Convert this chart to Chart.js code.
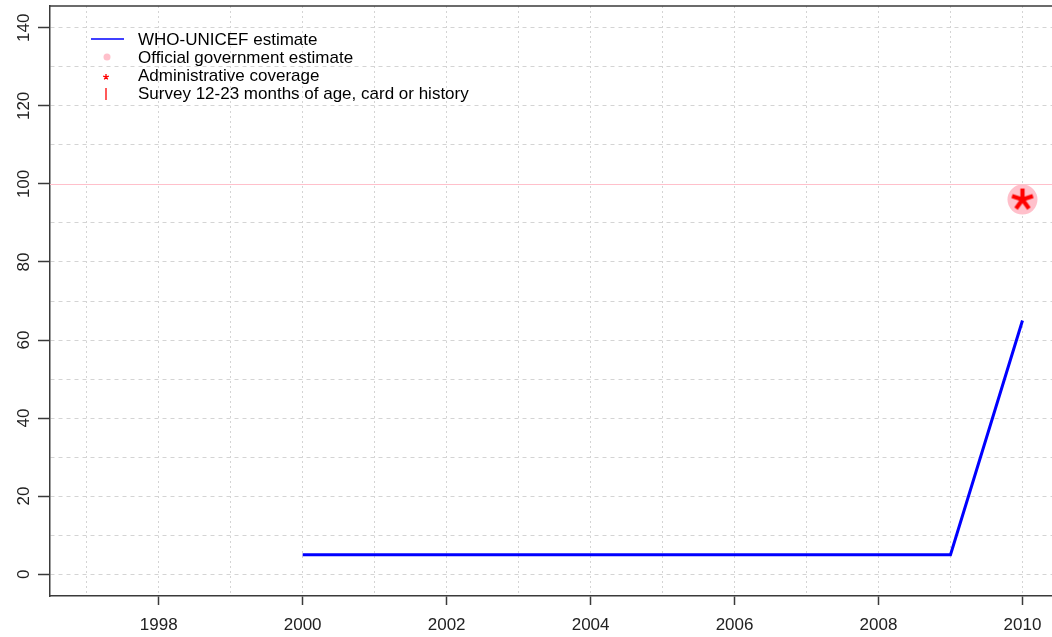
<!DOCTYPE html>
<html>
<head>
<meta charset="utf-8">
<script src="https://cdn.jsdelivr.net/npm/chart.js@4.4.1/dist/chart.umd.min.js"></script>
<style>
html,body{margin:0;padding:0;background:#fff;}
#wrap{width:1052px;height:637px;}
</style>
</head>
<body>
<div id="wrap"><canvas id="chart"></canvas></div>
<script>
// values
const years = [2000,2001,2002,2003,2004,2005,2006,2007,2008,2009,2010];
const whoUnicef = [5,5,5,5,5,5,5,5,5,5,65];
const govYears = [2010];
const govEstimate = [96];
const adminYears = [2010];
const adminCoverage = [96];
const surveyYears = [];
const surveyCoverage = [];
const targetLevel = 100;
const xTickLabels = [1998,2000,2002,2004,2006,2008,2010];
const yTickLabels = [0,20,40,60,80,100,120,140];
const legendLabels = ['WHO-UNICEF estimate','Official government estimate','Administrative coverage','Survey 12-23 months of age, card or history'];

const FONT = '"Liberation Sans", Arial, sans-serif';
Chart.defaults.font.family = FONT;
Chart.defaults.font.size = 17;
Chart.defaults.color = '#222';

// R-style 5 armed asterisk as a point image
function asterisk(size, lw){
    const c = document.createElement('canvas');
    c.width = size; c.height = size;
    const g = c.getContext('2d');
    const r = size/2 - 1;
    g.strokeStyle = '#ff0000';
    g.lineWidth = lw;
    g.beginPath();
    for(let i=0;i<5;i++){
        const a = -Math.PI/2 + i*2*Math.PI/5;
        g.moveTo(size/2, size/2);
        g.lineTo(size/2 + r*Math.cos(a), size/2 + r*Math.sin(a));
    }
    g.stroke();
    return c;
}
const bigStar = asterisk(24, 4.2);
const smallStar = asterisk(8, 1.3);

const pts = (xs, ys) => xs.map((x,i) => ({x:x, y:ys[i]}));

const framePlugin = {
    id:'frame',
    beforeDatasetsDraw(chart){
        const {ctx, chartArea:a, scales:{y}} = chart;
        const py = Math.round(y.getPixelForValue(targetLevel)) + 0.5;
        ctx.save();
        ctx.strokeStyle = '#ffc0cb';
        ctx.lineWidth = 1;
        ctx.beginPath(); ctx.moveTo(a.left, py); ctx.lineTo(a.right, py); ctx.stroke();
        ctx.strokeStyle = '#3a3a3a';
        ctx.lineWidth = 1.5;
        ctx.beginPath(); ctx.moveTo(a.left, a.top); ctx.lineTo(a.right + 5, a.top); ctx.stroke();
        ctx.restore();
    },
    afterDraw(chart){
        const ctx = chart.ctx;
        ctx.save();
        ctx.font = '17px ' + FONT;
        ctx.fillStyle = '#000';
        ctx.textBaseline = 'middle';
        const rows = [40,58,76,94];
        legendLabels.forEach((t,i) => ctx.fillText(t, 138, rows[i]));
        ctx.strokeStyle = '#0000ff'; ctx.lineWidth = 1.3;
        ctx.beginPath(); ctx.moveTo(91, 39); ctx.lineTo(124, 39); ctx.stroke();
        ctx.fillStyle = '#ffc0cb';
        ctx.beginPath(); ctx.arc(107, 57, 3.5, 0, Math.PI*2); ctx.fill();
        ctx.drawImage(smallStar, 106-4, 77-4);
        ctx.strokeStyle = '#ff0000'; ctx.lineWidth = 1.3;
        ctx.beginPath(); ctx.moveTo(106, 88); ctx.lineTo(106, 100); ctx.stroke();
        ctx.restore();
    }
};

new Chart(document.getElementById('chart').getContext('2d'), {
    type:'line',
    data:{
        datasets:[{
            label:legendLabels[0],
            data: pts(years, whoUnicef),
            borderColor:'#0000ff',
            borderWidth:3,
            pointRadius:0,
            tension:0,
            order:3
        },{
            label:legendLabels[1],
            data: pts(govYears, govEstimate),
            showLine:false,
            pointRadius:15,
            pointBackgroundColor:'#ffc0cb',
            pointBorderWidth:0,
            order:2
        },{
            label:legendLabels[2],
            data: pts(adminYears, adminCoverage),
            showLine:false,
            pointStyle: bigStar,
            order:1
        },{
            label:legendLabels[3],
            data: pts(surveyYears, surveyCoverage),
            showLine:false,
            pointStyle:'line',
            pointRotation:90,
            borderColor:'#ff0000',
            order:0
        }]
    },
    options:{
        responsive:true,
        maintainAspectRatio:false,
        animation:false,
        layout:{autoPadding:false, padding:{top:6, right:0, left:0, bottom:0}},
        plugins:{legend:{display:false}, tooltip:{enabled:false}},
        scales:{
            x:{
                type:'linear',
                min:1996.49, max:2010.41,
                afterFit: s => { s.height = 41; s.paddingLeft = 0; s.paddingRight = 0; },
                ticks:{
                    stepSize:1, includeBounds:false, autoSkip:false, maxRotation:0, padding:10,
                    callback: v => xTickLabels.includes(v) ? String(v) : ''
                },
                grid:{
                    color:'#d4d4d4',
                    tickLength:9,
                    tickWidth:1.5,
                    tickColor: c => (c.tick && xTickLabels.includes(c.tick.value)) ? '#3a3a3a' : 'rgba(0,0,0,0)',
                    tickBorderDash:[]
                },
                border:{color:'#3a3a3a', width:1.5, dash:[2,3]}
            },
            y:{
                min:-5.6, max:145.6,
                afterFit: s => { s.width = 50; s.paddingTop = 0; s.paddingBottom = 0; },
                ticks:{
                    stepSize:10, includeBounds:false, autoSkip:false,
                    minRotation:90, maxRotation:90, crossAlign:'center', padding:0,
                    callback: v => yTickLabels.includes(v) ? String(v) : ''
                },
                grid:{
                    color: c => (c.tick && c.tick.value === targetLevel) ? 'rgba(0,0,0,0)' : '#d4d4d4',
                    tickLength:12,
                    tickWidth:1.5,
                    tickColor: c => (c.tick && yTickLabels.includes(c.tick.value)) ? '#3a3a3a' : 'rgba(0,0,0,0)',
                    tickBorderDash:[]
                },
                border:{color:'#3a3a3a', width:1.5, dash:[4,4]}
            }
        }
    },
    plugins:[framePlugin]
});
</script>
</body>
</html>
